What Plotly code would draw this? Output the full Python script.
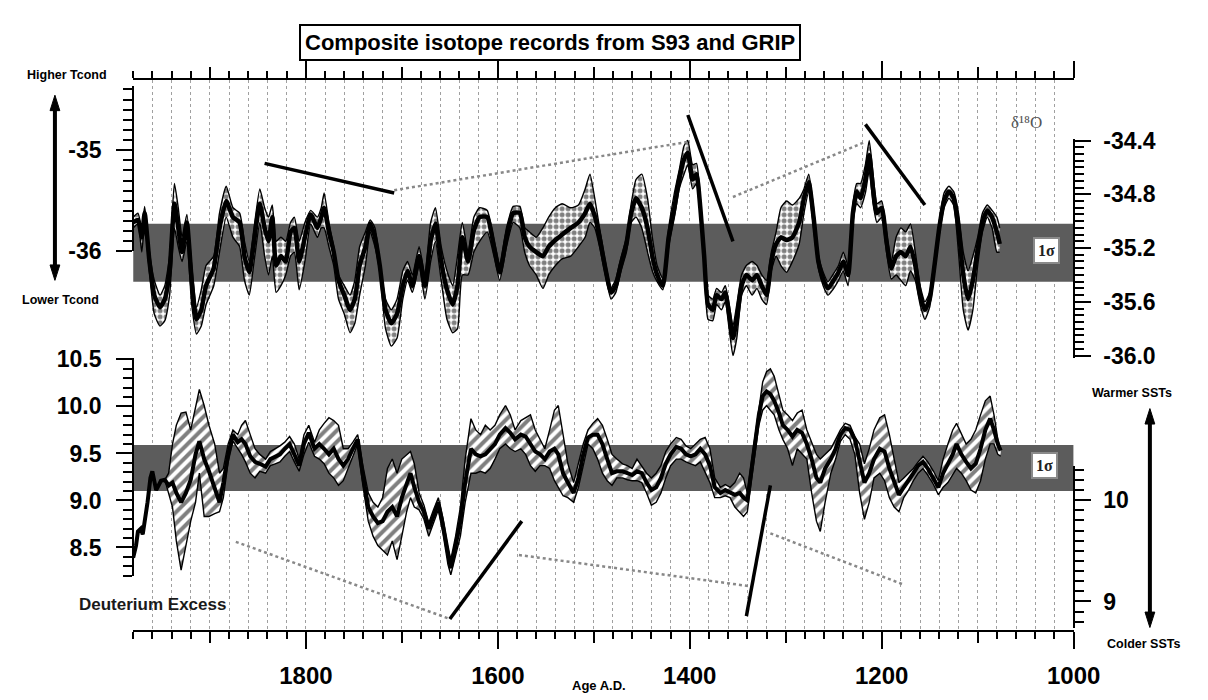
import plotly.graph_objects as go

# ---------------- data ----------------
yr_top = [1980,1975,1971,1968,1963,1958,1952,1947,1942,1937,1933,1929,1924,1919,1914,1909,1904,1896,1890,1883,
          1876,1869,1864,1859,1854,1848,1843,1839,1835,1831,1826,1821,1816,1812,1807,1801,1795,1788,1784,1781,
          1776,1771,1766,1760,1754,1749,1744,1738,1733,1728,1723,1717,1711,1705,1699,1694,1689,1682,1676,1670,
          1665,1659,1653,1647,1642,1637,1631,1625,1619,1611,1604,1598,1591,1584,1577,1572,1567,1560,1553,1547,
          1540,1533,1524,1516,1509,1504,1499,1494,1488,1482,1477,1472,1466,1461,1456,1450,1444,1439,1434,1428,
          1422,1416,1411,1406,1402,1397,1393,1389,1385,1381,1376,1372,1367,1363,1359,1355,1351,1346,1341,1335,
          1330,1325,1320,1315,1310,1305,1299,1293,1286,1281,1276,1271,1266,1261,1256,1251,1245,1240,1235,1230,
          1226,1222,1217,1213,1209,1205,1200,1195,1190,1185,1180,1175,1170,1165,1160,1155,1150,1145,1140,1135,
          1130,1125,1120,1115,1110,1105,1100,1095,1090,1085,1080,1077]
d18o_mid = [-35.01,-34.99,-35.12,-34.94,-35.30,-35.55,-35.64,-35.58,-35.37,-34.87,-35.05,-35.23,-35.01,-35.44,-35.73,-35.66,-35.48,-35.35,-35.05,-34.85,
            -34.97,-35.01,-35.26,-35.38,-35.15,-34.87,-35.05,-35.15,-34.97,-35.33,-35.26,-35.30,-35.08,-35.05,-35.30,-35.12,-34.95,-35.05,-34.97,-34.90,
            -35.08,-35.23,-35.44,-35.55,-35.66,-35.58,-35.33,-35.19,-35.02,-35.12,-35.33,-35.66,-35.76,-35.69,-35.48,-35.37,-35.48,-35.26,-35.48,-35.15,
            -35.02,-35.30,-35.51,-35.62,-35.48,-35.12,-35.30,-35.07,-34.97,-34.97,-35.19,-35.38,-35.12,-34.94,-34.94,-35.12,-35.19,-35.23,-35.26,-35.19,
            -35.14,-35.10,-35.05,-35.01,-34.94,-34.87,-34.96,-35.12,-35.35,-35.53,-35.48,-35.33,-35.17,-34.94,-34.83,-34.90,-35.05,-35.26,-35.40,-35.48,
            -35.12,-34.90,-34.69,-34.54,-34.49,-34.69,-34.65,-34.90,-35.26,-35.62,-35.66,-35.55,-35.58,-35.53,-35.69,-35.87,-35.73,-35.48,-35.40,-35.44,
            -35.40,-35.48,-35.55,-35.30,-35.17,-35.12,-35.14,-35.12,-35.01,-34.83,-34.71,-34.97,-35.30,-35.43,-35.50,-35.45,-35.38,-35.30,-35.40,-34.94,
            -34.78,-34.83,-34.69,-34.51,-34.76,-34.94,-34.90,-35.15,-35.35,-35.26,-35.23,-35.26,-35.19,-35.33,-35.55,-35.66,-35.58,-35.33,-35.05,-34.85,
            -34.78,-34.83,-35.05,-35.40,-35.58,-35.44,-35.21,-35.01,-34.92,-34.97,-35.08,-35.17]
d18o_hi = [-34.97,-34.94,-35.05,-34.89,-35.23,-35.44,-35.55,-35.48,-35.26,-34.72,-34.90,-35.12,-34.95,-35.33,-35.64,-35.51,-35.33,-35.26,-34.94,-34.74,
           -34.90,-34.94,-35.15,-35.30,-35.05,-34.76,-34.90,-34.97,-34.88,-35.15,-35.12,-35.15,-35.01,-34.97,-35.15,-35.01,-34.92,-34.97,-34.90,-34.79,
           -35.01,-35.19,-35.40,-35.48,-35.55,-35.44,-35.19,-35.08,-34.99,-35.05,-35.30,-35.58,-35.66,-35.58,-35.37,-35.30,-35.40,-35.19,-35.40,-35.01,
           -34.90,-35.19,-35.37,-35.48,-35.26,-35.01,-35.23,-34.97,-34.90,-34.92,-35.14,-35.33,-35.05,-34.89,-34.89,-35.05,-35.08,-35.12,-35.05,-34.97,
           -34.90,-34.87,-34.90,-34.88,-34.76,-34.65,-34.83,-35.05,-35.30,-35.50,-35.43,-35.28,-35.12,-34.87,-34.69,-34.65,-34.83,-35.12,-35.33,-35.43,
           -35.05,-34.79,-34.62,-34.44,-34.40,-34.58,-34.57,-34.83,-35.21,-35.55,-35.58,-35.50,-35.53,-35.48,-35.62,-35.78,-35.62,-35.40,-35.33,-35.30,
           -35.33,-35.40,-35.44,-35.23,-35.08,-34.90,-34.85,-34.88,-34.83,-34.76,-34.65,-34.90,-35.25,-35.38,-35.45,-35.40,-35.33,-35.23,-35.33,-34.87,
           -34.72,-34.72,-34.58,-34.40,-34.65,-34.87,-34.85,-35.08,-35.30,-35.12,-35.05,-35.08,-35.02,-35.23,-35.48,-35.60,-35.53,-35.28,-35.00,-34.79,
           -34.74,-34.78,-34.94,-35.23,-35.37,-35.26,-35.12,-34.94,-34.88,-34.92,-34.97,-35.05]
d18o_lo = [-35.05,-35.02,-35.23,-35.01,-35.38,-35.69,-35.78,-35.74,-35.55,-35.05,-35.19,-35.30,-35.15,-35.62,-35.84,-35.78,-35.62,-35.48,-35.23,-34.97,
           -35.12,-35.19,-35.44,-35.55,-35.30,-35.01,-35.26,-35.40,-35.26,-35.53,-35.48,-35.40,-35.26,-35.23,-35.51,-35.30,-35.02,-35.12,-35.05,-35.05,
           -35.19,-35.33,-35.58,-35.69,-35.83,-35.76,-35.55,-35.33,-35.08,-35.19,-35.38,-35.80,-35.93,-35.87,-35.58,-35.44,-35.53,-35.33,-35.58,-35.30,
           -35.15,-35.44,-35.73,-35.83,-35.80,-35.40,-35.40,-35.23,-35.15,-35.08,-35.26,-35.44,-35.19,-35.01,-35.05,-35.23,-35.33,-35.40,-35.50,-35.40,
           -35.33,-35.28,-35.26,-35.19,-35.12,-35.01,-35.05,-35.19,-35.40,-35.58,-35.53,-35.38,-35.23,-35.01,-34.97,-35.05,-35.23,-35.37,-35.45,-35.51,
           -35.19,-34.97,-34.76,-34.65,-34.58,-34.76,-34.72,-34.97,-35.31,-35.73,-35.74,-35.62,-35.66,-35.60,-35.80,-36.00,-35.87,-35.55,-35.48,-35.55,
           -35.50,-35.58,-35.62,-35.37,-35.26,-35.33,-35.38,-35.30,-35.17,-34.94,-34.78,-35.05,-35.35,-35.48,-35.55,-35.51,-35.44,-35.37,-35.48,-35.01,
           -34.87,-34.90,-34.79,-34.62,-34.87,-35.01,-34.97,-35.23,-35.43,-35.40,-35.44,-35.48,-35.37,-35.44,-35.62,-35.73,-35.64,-35.38,-35.10,-34.90,
           -34.83,-34.88,-35.23,-35.66,-35.81,-35.66,-35.33,-35.08,-34.97,-35.05,-35.23,-35.23]

yr_bot = [1980,1977,1975,1972,1970,1967,1965,1962,1960,1956,1951,1947,1943,1939,1935,1930,1925,1920,1915,1911,
          1906,1901,1895,1890,1886,1881,1876,1871,1867,1863,1858,1853,1848,1842,1837,1832,1827,1822,1817,1812,
          1807,1802,1797,1791,1786,1781,1776,1771,1766,1761,1756,1751,1746,1741,1735,1730,1725,1720,1715,1710,
          1705,1700,1695,1691,1687,1682,1677,1672,1667,1662,1657,1652,1649,1644,1639,1634,1628,1623,1618,1613,
          1608,1603,1598,1592,1587,1582,1576,1571,1566,1561,1556,1551,1546,1541,1537,1532,1527,1521,1516,1511,
          1506,1501,1496,1491,1486,1481,1476,1470,1465,1460,1455,1450,1445,1440,1435,1430,1425,1420,1414,1409,
          1404,1399,1394,1389,1384,1379,1374,1368,1363,1358,1353,1348,1344,1340,1336,1332,1328,1324,1320,1316,
          1312,1307,1303,1298,1293,1288,1283,1278,1273,1268,1264,1259,1253,1248,1243,1238,1233,1228,1223,1218,
          1213,1208,1202,1197,1192,1187,1182,1177,1172,1167,1162,1157,1152,1146,1141,1136,1131,1126,1122,1117,
          1112,1107,1102,1097,1092,1087,1083,1079,1076]
dex_mid = [8.39,8.52,8.67,8.70,8.64,8.83,8.98,9.24,9.31,9.11,9.21,9.22,9.16,9.19,9.08,8.98,9.08,9.22,9.49,9.63,
           9.44,9.31,9.14,8.98,9.19,9.49,9.70,9.62,9.65,9.60,9.47,9.41,9.39,9.36,9.44,9.47,9.49,9.55,9.60,9.49,
           9.37,9.60,9.72,9.55,9.60,9.55,9.49,9.55,9.44,9.37,9.44,9.55,9.65,9.29,8.93,8.83,8.76,8.78,8.88,8.93,
           8.83,9.03,9.19,9.29,9.14,8.98,8.88,8.70,8.83,8.98,8.73,8.42,8.28,8.52,8.78,9.19,9.55,9.49,9.47,9.49,
           9.55,9.60,9.70,9.77,9.72,9.65,9.70,9.68,9.60,9.52,9.49,9.44,9.52,9.55,9.49,9.29,9.19,9.08,9.24,9.49,
           9.67,9.70,9.70,9.60,9.44,9.29,9.31,9.31,9.29,9.27,9.31,9.29,9.19,9.11,9.14,9.24,9.39,9.49,9.57,9.55,
           9.49,9.47,9.49,9.55,9.49,9.37,9.14,9.08,9.11,9.08,9.06,9.08,9.03,9.00,9.29,9.60,9.91,10.11,10.16,10.13,
           10.06,9.93,9.80,9.75,9.68,9.75,9.72,9.60,9.44,9.24,9.19,9.34,9.44,9.55,9.70,9.77,9.75,9.65,9.44,9.19,
           9.29,9.44,9.55,9.52,9.34,9.19,9.06,9.14,9.21,9.29,9.37,9.41,9.34,9.24,9.14,9.29,9.39,9.49,9.60,9.49,
           9.41,9.34,9.39,9.55,9.75,9.87,9.75,9.60,9.53]
dex_hi = [8.39,8.52,8.67,8.70,8.64,8.83,8.98,9.24,9.31,9.11,9.21,9.22,9.29,9.60,9.80,9.93,9.94,9.75,10.01,10.18,
          10.01,9.80,9.60,9.29,9.34,9.60,9.75,9.70,9.80,9.85,9.70,9.55,9.49,9.44,9.52,9.55,9.58,9.62,9.68,9.60,
          9.44,9.70,9.80,9.62,9.75,9.82,9.88,9.85,9.80,9.55,9.55,9.62,9.70,9.39,9.08,8.98,8.93,9.03,9.34,9.44,
          9.29,9.44,9.49,9.52,9.39,9.08,8.95,8.76,8.90,9.03,8.80,8.49,8.37,8.62,8.93,9.44,9.87,9.75,9.70,9.80,
          9.75,9.80,9.91,10.01,9.91,9.75,9.85,9.88,9.91,9.75,9.65,9.55,9.75,9.96,10.01,9.70,9.39,9.19,9.39,9.60,
          9.75,9.82,9.87,9.80,9.65,9.49,9.44,9.39,9.37,9.34,9.44,9.37,9.29,9.24,9.29,9.37,9.52,9.60,9.67,9.65,
          9.58,9.55,9.60,9.65,9.67,9.55,9.24,9.14,9.17,9.14,9.19,9.29,9.24,9.08,9.39,9.70,10.01,10.26,10.37,10.40,
          10.32,10.11,9.96,9.91,9.85,9.93,9.96,9.75,9.63,9.49,9.44,9.49,9.55,9.65,9.75,9.82,9.80,9.68,9.60,9.39,
          9.55,9.75,9.88,9.91,9.70,9.44,9.19,9.24,9.29,9.34,9.41,9.47,9.41,9.31,9.21,9.44,9.60,9.75,9.82,9.70,
          9.60,9.65,9.75,9.91,10.06,10.11,9.91,9.65,9.55]
dex_lo = [8.39,8.52,8.67,8.70,8.64,8.83,8.98,9.24,9.31,9.11,9.21,9.22,9.08,8.93,8.57,8.26,8.52,8.78,8.98,9.29,
          8.83,8.83,8.86,8.88,9.03,9.41,9.63,9.55,9.49,9.41,9.29,9.24,9.31,9.29,9.37,9.39,9.41,9.47,9.52,9.41,
          9.31,9.49,9.62,9.47,9.44,9.39,9.29,9.24,9.16,9.21,9.34,9.47,9.60,9.19,8.78,8.62,8.52,8.47,8.42,8.57,
          8.37,8.62,8.88,9.03,8.93,8.90,8.80,8.62,8.76,8.90,8.64,8.32,8.21,8.42,8.62,8.98,9.29,9.29,9.31,9.29,
          9.34,9.44,9.55,9.60,9.55,9.52,9.55,9.49,9.37,9.31,9.37,9.37,9.34,9.21,9.14,9.05,9.03,8.98,9.14,9.39,
          9.60,9.55,9.44,9.29,9.21,9.16,9.24,9.24,9.22,9.21,9.21,9.19,9.08,8.95,8.98,9.08,9.24,9.37,9.44,9.44,
          9.41,9.39,9.37,9.41,9.29,9.19,9.03,9.03,9.05,9.03,8.93,8.88,8.83,8.88,9.19,9.49,9.80,9.96,10.01,9.96,
          9.91,9.75,9.65,9.55,9.37,9.55,9.49,9.44,9.08,8.78,8.67,8.98,9.29,9.44,9.63,9.70,9.65,9.49,9.08,8.80,
          8.98,9.24,9.29,9.21,9.03,8.93,8.88,9.03,9.11,9.21,9.29,9.34,9.27,9.17,9.06,9.14,9.19,9.27,9.34,9.29,
          9.21,9.11,9.08,9.21,9.44,9.60,9.60,9.49,9.47]

# 1-sigma bands
x_span = [1980, 1000]
sigma_top = [-35.45, -35.02]
sigma_bot = [9.10, 9.59]

# trend segments (year, value)
top_black_x = [1843, 1708, None, 1402, 1355, None, 1217, 1155]
top_black_y = [-34.57, -34.79, None, -34.21, -35.15, None, -34.28, -34.88]
top_gray_x = [1708, 1402, None, 1355, 1217]
top_gray_y = [-34.77, -34.41, None, -34.82, -34.41]
bot_gray_x = [1873, 1650, None, 1578, 1339, None, 1316, 1176]
bot_gray_y = [8.56, 7.74, None, 8.42, 8.09, None, 8.65, 8.10]
bot_black_x = [1650, 1575, None, 1341, 1316]
bot_black_y = [7.74, 8.78, None, 7.77, 9.16]

x_major = [1800, 1600, 1400, 1200, 1000]
x_mid = [1900, 1700, 1500, 1300, 1100]
x_minor = list(range(1000, 1981, 20))

# ---------------- layout geometry ----------------
W, H = 1208, 700
X0, X1 = 128, 1090
YT, YB = 62, 633
FONT = "Liberation Sans, Arial, sans-serif"
SERIF = "Liberation Serif, Times New Roman, serif"


def fx(p):
    return p / W


def fy(p):
    return 1 - p / H


def rng(va, pa, vb, pb, ptop, pbot):
    k = (vb - va) / (pb - pa)
    return [va + k * (pbot - pa), va + k * (ptop - pa)]


fig = go.Figure()
SPL = dict(shape='spline', smoothing=0.5)

# top panel (data axis y)
fig.add_trace(go.Scatter(x=[x_span[0], x_span[1], x_span[1], x_span[0], x_span[0]],
                         y=[sigma_top[0], sigma_top[0], sigma_top[1], sigma_top[1], sigma_top[0]],
                         fill='toself', fillcolor='#5c5c5c', line=dict(width=0, color='#5c5c5c'),
                         mode='lines', hoverinfo='skip', showlegend=False, xaxis='x', yaxis='y'))
fig.add_trace(go.Scatter(x=yr_top, y=d18o_lo, mode='lines', line=dict(color='black', width=1.4, **SPL),
                         showlegend=False, xaxis='x', yaxis='y'))
fig.add_trace(go.Scatter(x=yr_top, y=d18o_hi, mode='lines', line=dict(color='black', width=1.4, **SPL),
                         fill='tonexty', fillcolor='white',
                         fillpattern=dict(shape='.', fgcolor='black', bgcolor='white', size=6, solidity=0.55),
                         showlegend=False, xaxis='x', yaxis='y'))
fig.add_trace(go.Scatter(x=yr_top, y=d18o_mid, mode='lines', line=dict(color='black', width=4.5, **SPL),
                         showlegend=False, xaxis='x', yaxis='y'))
fig.add_trace(go.Scatter(x=top_gray_x, y=top_gray_y, mode='lines', line=dict(color='#888888', width=2.5, dash='dot'),
                         showlegend=False, xaxis='x', yaxis='y'))
fig.add_trace(go.Scatter(x=top_black_x, y=top_black_y, mode='lines', line=dict(color='black', width=3.5),
                         showlegend=False, xaxis='x', yaxis='y'))

# bottom panel (data axis y3)
fig.add_trace(go.Scatter(x=[x_span[0], x_span[1], x_span[1], x_span[0], x_span[0]],
                         y=[sigma_bot[0], sigma_bot[0], sigma_bot[1], sigma_bot[1], sigma_bot[0]],
                         fill='toself', fillcolor='#5c5c5c', line=dict(width=0, color='#5c5c5c'),
                         mode='lines', hoverinfo='skip', showlegend=False, xaxis='x', yaxis='y3'))
fig.add_trace(go.Scatter(x=yr_bot, y=dex_lo, mode='lines', line=dict(color='black', width=1.4),
                         showlegend=False, xaxis='x', yaxis='y3'))
fig.add_trace(go.Scatter(x=yr_bot, y=dex_hi, mode='lines', line=dict(color='black', width=1.4),
                         fill='tonexty', fillcolor='white',
                         fillpattern=dict(shape='/', fgcolor='black', bgcolor='white', size=8, solidity=0.5),
                         showlegend=False, xaxis='x', yaxis='y3'))
fig.add_trace(go.Scatter(x=yr_bot, y=dex_mid, mode='lines', line=dict(color='black', width=4),
                         showlegend=False, xaxis='x', yaxis='y3'))
fig.add_trace(go.Scatter(x=bot_gray_x, y=bot_gray_y, mode='lines', line=dict(color='#888888', width=2.5, dash='dot'),
                         showlegend=False, xaxis='x', yaxis='y3'))
fig.add_trace(go.Scatter(x=bot_black_x, y=bot_black_y, mode='lines', line=dict(color='black', width=3.5),
                         showlegend=False, xaxis='x', yaxis='y3'))

# empty carriers for the display axes
for ya in ['y2', 'y4', 'y5', 'y6']:
    fig.add_trace(go.Scatter(x=[None], y=[None], mode='lines', showlegend=False, hoverinfo='skip',
                             xaxis='x2', yaxis=ya))
fig.add_trace(go.Scatter(x=[None], y=[None], mode='lines', showlegend=False, hoverinfo='skip',
                         xaxis='x3', yaxis='y'))

xdom = [fx(X0), fx(X1)]
full = [fy(YB), fy(YT)]
tickfont = dict(family=FONT, size=23, color='black', weight='bold')


def minor_vals(a, b, step, majors):
    out = []
    n = int(round((b - a) / step))
    for i in range(n + 1):
        v = round(a + i * step, 3)
        if all(abs(v - m) > 1e-6 for m in majors):
            out.append(v)
    return out


def yaxis_display(dom_px, rng_vals, pos_px, side, tv, tt, mv, standoff):
    return dict(domain=[fy(dom_px[1]), fy(dom_px[0])], range=rng_vals,
                anchor='free', position=fx(pos_px), side=side,
                showline=True, linecolor='black', linewidth=2,
                ticks='outside', tickvals=tv, ticktext=tt, ticklen=16, tickwidth=2,
                tickcolor='black', tickfont=tickfont, ticklabelstandoff=standoff,
                minor=dict(tickvals=mv, ticks='outside', ticklen=9, tickwidth=1.5, tickcolor='black', showgrid=False),
                showgrid=False, zeroline=False)


fig.update_layout(
    width=W, height=H, margin=dict(l=0, r=0, t=0, b=0),
    paper_bgcolor='white', plot_bgcolor='rgba(0,0,0,0)',
    showlegend=False,
    xaxis=dict(domain=xdom, range=[1980, 1000], anchor='y',
               showline=True, linecolor='black', linewidth=2, mirror='ticks',
               ticks='outside', tickvals=x_major, ticktext=[str(v) for v in x_major],
               ticklen=17, tickwidth=2, tickcolor='black',
               tickfont=dict(family=FONT, size=24, color='black', weight='bold'),
               ticklabelstandoff=6,
               showgrid=True, gridcolor='#a0a0a0', gridwidth=1, griddash='dot',
               minor=dict(tickvals=x_minor, ticks='outside', ticklen=7, tickwidth=1.5, tickcolor='black',
                          showgrid=True, gridcolor='#a0a0a0', gridwidth=1, griddash='dot'),
               zeroline=False),
    xaxis3=dict(overlaying='x', range=[1980, 1000], anchor='y', side='bottom',
                showline=False, mirror='ticks', ticks='outside', tickvals=x_mid, ticklen=12, tickwidth=2,
                tickcolor='black', showticklabels=False, showgrid=False, zeroline=False),
    xaxis2=dict(domain=xdom, range=[1980, 1000], visible=False, anchor='y2'),
    yaxis=dict(domain=full, range=rng(-34.4, 125, -36.0, 348, YT, YB), visible=False),
    yaxis3=dict(overlaying='y', range=rng(10.5, 352, 8.5, 547, YT, YB), visible=False),
    yaxis2=yaxis_display((68, 240), rng(-35, 135, -36, 240, 68, 240), X0, 'left',
                         [-35, -36], ['-35', '-36'], minor_vals(-36.0, -34.4, 0.1, [-35, -36]), 10),
    yaxis4=yaxis_display((123, 350), rng(-34.4, 125, -36.0, 348, 123, 350), X1, 'right',
                         [-34.4, -34.8, -35.2, -35.6, -36.0], ['-34.4', '-34.8', '-35.2', '-35.6', '-36.0'],
                         minor_vals(-36.0, -34.4, 0.05, [-34.4, -34.8, -35.2, -35.6, -36.0]), 8),
    yaxis5=yaxis_display((351, 577), rng(10.5, 352, 8.5, 547, 351, 577), X0, 'left',
                         [10.5, 10.0, 9.5, 9.0, 8.5], ['10.5', '10.0', '9.5', '9.0', '8.5'],
                         minor_vals(8.2, 10.5, 0.1, [10.5, 10.0, 9.5, 9.0, 8.5]), 10),
    yaxis6=yaxis_display((462, 630), rng(10, 498, 9, 603, 462, 630), X1, 'right',
                         [10, 9], ['10', '9'], minor_vals(8.8, 10.3, 0.1, [10, 9]), 8),
)

ann = []


def txt(x, y, s, size, color='black', family=FONT, weight='bold', **kw):
    d = dict(x=fx(x), y=fy(y), xref='paper', yref='paper', text=s, showarrow=False,
             font=dict(family=family, size=size, color=color, weight=weight),
             xanchor='center', yanchor='middle')
    d.update(kw)
    ann.append(d)


txt(554, 23, 'Composite isotope records from S93 and GRIP', 22,
    bordercolor='black', borderwidth=2, borderpad=4, bgcolor='white')
txt(60, 57, 'Higher Tcond', 12.5)
txt(54, 290, 'Lower Tcond', 12.5)
txt(1150, 387, 'Warmer SSTs', 12.5)
txt(1161, 647, 'Colder SSTs', 12.5)
txt(1042, 106, 'δ¹⁸O', 17, color='#555555', family=SERIF, weight='normal')
txt(148, 606, 'Deuterium Excess', 17, color='#1a1a1a')
txt(604, 690, 'Age A.D.', 13)
txt(1062, 239, '1σ', 16, color='#222222', family=SERIF,
    bgcolor='white', bordercolor='#8a8a8a', borderwidth=2, borderpad=3)
txt(1060, 462, '1σ', 16, color='#222222', family=SERIF,
    bgcolor='white', bordercolor='#8a8a8a', borderwidth=2, borderpad=3)
fig.update_layout(annotations=ann)

# double-headed arrows drawn as shapes (shaft + two heads)
shapes = []
for (xa, ytop, ybot) in [(48, 78, 270), (1168, 403, 630)]:
    shapes.append(dict(type='line', xref='paper', yref='paper', x0=fx(xa), x1=fx(xa),
                       y0=fy(ytop + 12), y1=fy(ybot - 12), line=dict(color='black', width=4)))
    for (tip, base) in [(ytop, ytop + 16), (ybot, ybot - 16)]:
        path = 'M {} {} L {} {} L {} {} Z'.format(fx(xa), fy(tip), fx(xa - 5), fy(base), fx(xa + 5), fy(base))
        shapes.append(dict(type='path', xref='paper', yref='paper', path=path,
                           fillcolor='black', line=dict(color='black', width=1)))
fig.update_layout(shapes=shapes)

fig.write_html("out.html")
